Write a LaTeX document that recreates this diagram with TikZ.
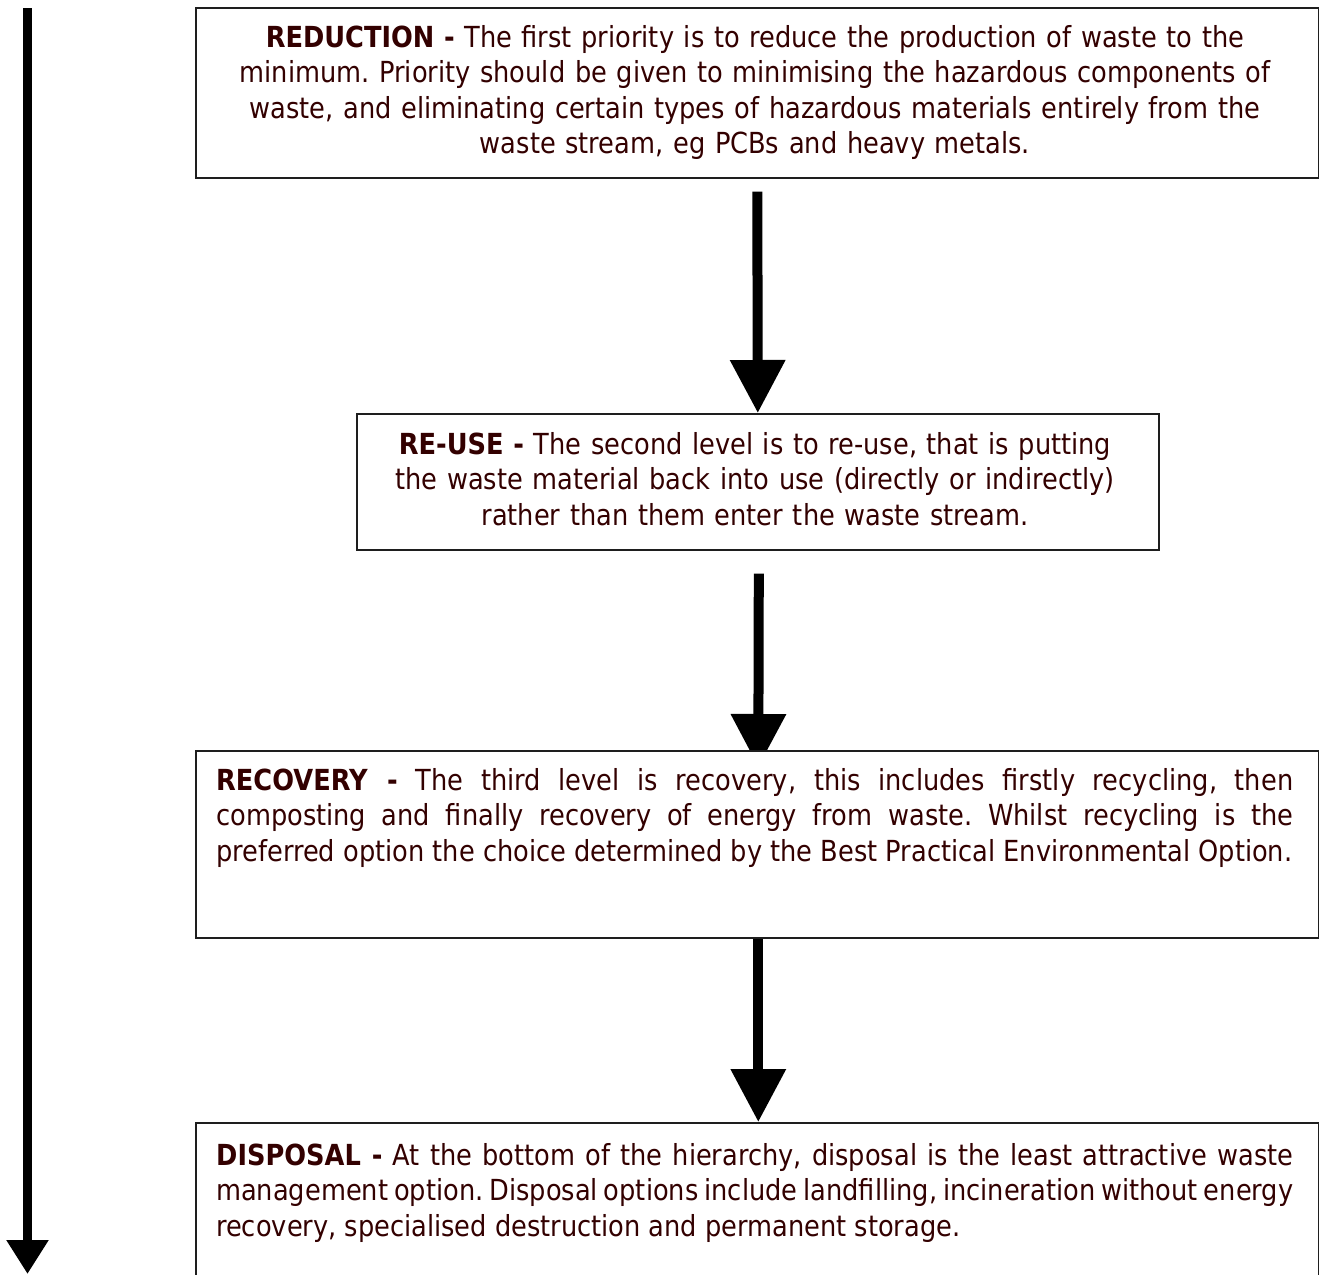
\documentclass[tikz,border=0pt]{standalone}
\usepackage{fontspec}
\setmainfont[FakeStretch=0.885]{DejaVu Sans}
\usetikzlibrary{arrows.meta}
\definecolor{txt}{RGB}{51,0,0}
\definecolor{frame}{RGB}{30,30,30}
\pgfdeclarelayer{bg}
\pgfsetlayers{bg,main}
\frenchspacing
\begin{document}
\begin{tikzpicture}[x=1pt,y=-1pt,
  box/.style={draw=frame, line width=1.6pt, fill=white, inner sep=0pt, anchor=north west},
  txtc/.style={text=txt, font=\fontsize{29}{35.5}\selectfont, inner sep=0pt, align=center, text width=1100pt, anchor=base},
  txtj/.style={text=txt, font=\fontsize{29}{35.5}\selectfont, inner sep=0pt, align=justify, text width=1077pt, anchor=base west},
  bigarrow/.style={line width=10pt, -{Triangle[length=53pt, width=53pt]}},
  sidearrow/.style={line width=9pt, -{Triangle[length=34pt, width=40pt]}}
]
\useasboundingbox (0,0) rectangle (1319,1274);
% boxes
\node[box, minimum width=1123pt, minimum height=170pt] (b1) at (195,7) {};
\node[box, minimum width=802pt, minimum height=136pt] (b2) at (356,413) {};
\node[box, minimum width=1123pt, minimum height=187pt] (b3) at (195,750) {};
\node[box, minimum width=1123pt, minimum height=200pt] (b4) at (195,1122) {};
% texts
\node[txtc] (t1) at (755,47) {\textbf{REDUCTION -} The first priority is to reduce the production of waste to the\\
minimum. Priority should be given to minimising the hazardous components of\\
waste, and eliminating certain types of hazardous materials entirely from the\\
waste stream, eg PCBs and heavy metals.};
\node[txtc] (t2) at (755,454) {\textbf{RE-USE -} The second level is to re-use, that is putting\\
the waste material back into use (directly or indirectly)\\
rather than them enter the waste stream.};
\node[txtj] (t3) at (216,790) {\textbf{RECOVERY -} The third level is recovery, this includes firstly recycling, then\linebreak
composting and finally recovery of energy from waste. Whilst recycling is the\linebreak
preferred option the choice determined by the Best Practical Environmental Option.};
\node[txtj] (t4) at (216,1165) {\textbf{DISPOSAL -} At the bottom of the hierarchy, disposal is the least attractive waste\linebreak
management option. Disposal options include landfilling, incineration without energy\linebreak
recovery, specialised destruction and permanent storage.};
% arrows behind boxes
\coordinate (s0) at (27.5,8);
\coordinate (e0) at (27.5,1274);
\begin{pgfonlayer}{bg}
\draw[sidearrow] (s0) -- (e0);
\draw[bigarrow] ([yshift=-13pt]b1.south) -- (b2.north);
\draw[bigarrow] ([xshift=1pt,yshift=-23pt]b2.south) -- ([xshift=1pt,yshift=-17pt]b3.north);
\draw[bigarrow] ([xshift=1pt]b3.south) -- ([xshift=1pt]b4.north);
\end{pgfonlayer}
\end{tikzpicture}
\end{document}
